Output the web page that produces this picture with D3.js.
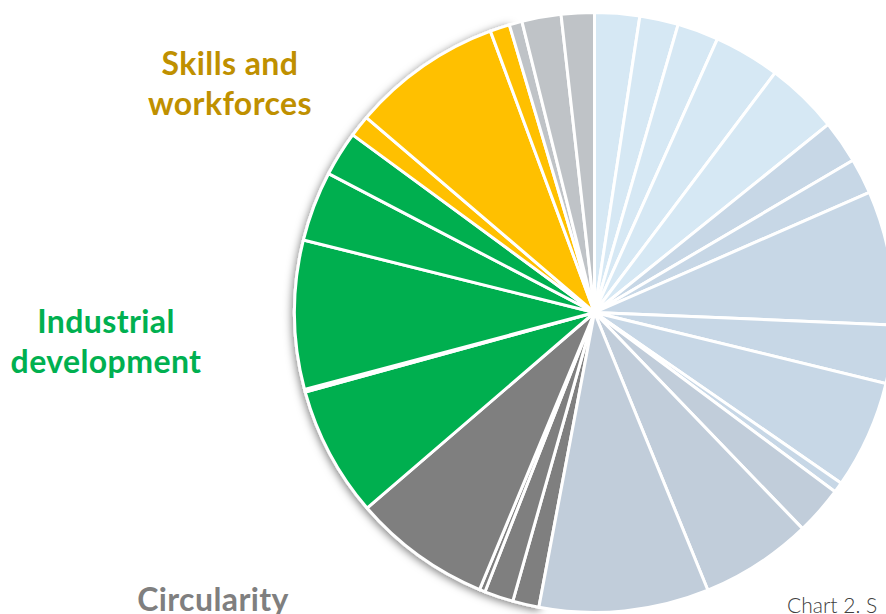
<!DOCTYPE html>
<html>
<head>
<meta charset="utf-8">
<script src="https://cdn.jsdelivr.net/npm/d3@7"></script>
<style>
  html, body { margin: 0; padding: 0; background: #ffffff; overflow: hidden; }
  svg { display: block; }
</style>
</head>
<body>
<svg id="chart" width="886" height="614"></svg>
<script>
// Share of each measure (percent of total), clockwise from 12 o'clock
const shares = [
  2.42, 2.08, 2.22, 3.56, 3.94,
  2.31, 1.92, 7.22, 3.14, 5.83, 0.56,
  2.61, 6.03, 9.14,
  1.42, 1.56, 0.31, 7.44,
  7.03, 0.15, 8.01, 3.78, 2.42,
  1.17, 8.11, 1.06,
  0.69, 2.11, 1.78
];
// Thematic group of each measure
const groups = [
  "A", "A", "A", "A", "A",
  "B", "B", "B", "B", "B", "B",
  "C", "C", "C",
  "Circularity", "Circularity", "Circularity", "Circularity",
  "Industrial development", "Industrial development", "Industrial development", "Industrial development", "Industrial development",
  "Skills and workforces", "Skills and workforces", "Skills and workforces",
  "D", "D", "D"
];
// Groups carrying a label
const labelGroups = ["Skills and workforces", "Industrial development", "Circularity"];
const labelLines = [["Skills and", "workforces"], ["Industrial", "development"], ["Circularity"]];
const caption = "Chart 2. S";

const colorOf = {
  "A": "#d6e8f4",
  "B": "#c7d7e6",
  "C": "#c1cdda",
  "Circularity": "#7f7f7f",
  "Industrial development": "#00af50",
  "Skills and workforces": "#ffc000",
  "D": "#bfc3c7"
};
const labelColor = {
  "Skills and workforces": "#bf9000",
  "Industrial development": "#00b050",
  "Circularity": "#7f7f7f"
};

const svg = d3.select("#chart");
const cx = 594.5, cy = 312.5, radius = 300;

const defs = svg.append("defs");
const shadow = defs.append("filter").attr("id", "sliceShadow")
  .attr("x", "-20%").attr("y", "-20%").attr("width", "140%").attr("height", "140%");
shadow.append("feDropShadow")
  .attr("dx", -1).attr("dy", 2).attr("stdDeviation", 4)
  .attr("flood-color", "#000").attr("flood-opacity", 0.5);

const data = shares.map((v, i) => ({ value: v, group: groups[i] }));
const pie = d3.pie().sort(null).value(d => d.value);
const arcs = pie(data);
const arc = d3.arc().innerRadius(0).outerRadius(radius);

const g = svg.append("g").attr("transform", `translate(${cx},${cy})`);

// Labelled groups are raised with a soft shadow; the rest are drawn flat on top
const raised = g.append("g").attr("filter", "url(#sliceShadow)");
const flat = g.append("g");

arcs.forEach(a => {
  const target = labelGroups.includes(a.data.group) ? raised : flat;
  target.append("path")
    .attr("d", arc(a))
    .attr("fill", colorOf[a.data.group])
    .attr("stroke", "#ffffff")
    .attr("stroke-width", 3)
    .attr("stroke-linejoin", "round");
});

// Group labels
const labelPos = [
  { x: 230, y: 75 },
  { x: 106, y: 333 },
  { x: 213, y: 611 }
];
labelGroups.forEach((grp, i) => {
  const t = svg.append("text")
    .attr("x", labelPos[i].x)
    .attr("y", labelPos[i].y)
    .attr("text-anchor", "middle")
    .attr("font-family", "Lato, sans-serif")
    .attr("font-weight", 700)
    .attr("font-size", 32)
    .attr("letter-spacing", 0.4)
    .attr("fill", labelColor[grp]);
  labelLines[i].forEach((line, j) => {
    t.append("tspan")
      .attr("x", labelPos[i].x)
      .attr("dy", j === 0 ? 0 : 40)
      .text(line);
  });
});

svg.append("text")
  .attr("x", 787)
  .attr("y", 613)
  .attr("font-family", "Lato, sans-serif")
  .attr("font-weight", 300)
  .attr("font-size", 21)
  .attr("fill", "#404040")
  .text(caption);
</script>
</body>
</html>
